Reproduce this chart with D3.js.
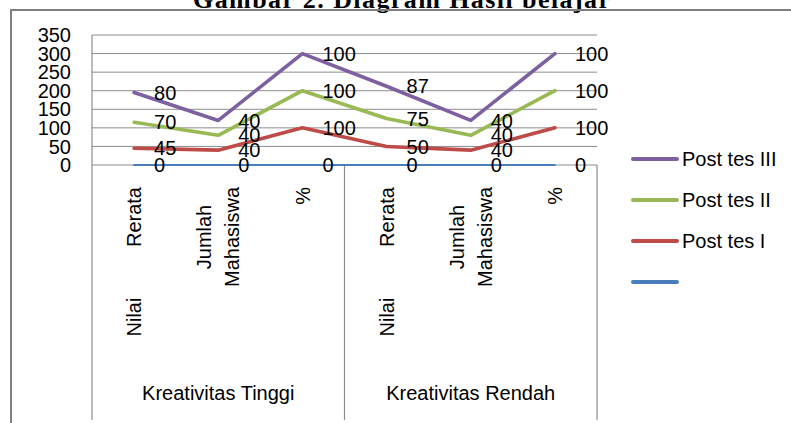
<!DOCTYPE html>
<html>
<head>
<meta charset="utf-8">
<script src="https://cdn.jsdelivr.net/npm/d3@7"></script>
<style>
  body { margin: 0; background: #fff; }
  text { font-family: "Liberation Sans", Arial, sans-serif; fill: #000; }
</style>
</head>
<body>
<svg id="chart" width="791" height="423"></svg>
<script>
'use strict';

// data
var groups = ['Kreativitas Tinggi', 'Kreativitas Rendah']
var subCats = [['Nilai Rerata'], ['Jumlah', 'Mahasiswa'], ['%']]
var seriesNames = ['', 'Post tes I', 'Post tes II', 'Post tes III']
var blank = [0, 0, 0, 0, 0, 0]
var postTes1 = [45, 40, 100, 50, 40, 100]
var postTes2 = [70, 40, 100, 75, 40, 100]
var postTes3 = [80, 40, 100, 87, 40, 100]
var yTicks = [0, 50, 100, 150, 200, 250, 300, 350]

var colors = ['#4a7ebb', '#be4b48', '#98b954', '#7d60a0']

var svg = d3.select('#chart')

// title, clipped at the top like the scan
svg.append('text')
    .attr('x', 193).attr('y', 8)
    .attr('textLength', 417)
    .style('font-family', '"Liberation Serif", "Times New Roman", serif')
    .style('font-weight', 'bold')
    .style('font-size', '26px')
    .text('Gambar 2. Diagram Hasil belajar')

// outer chart frame
svg.append('rect')
    .attr('x', 11).attr('y', 10)
    .attr('width', 900).attr('height', 500)
    .attr('fill', 'none')
    .attr('stroke', '#7f7f7f')
    .attr('stroke-width', 2)

var plotL = 92, plotR = 597, plotT = 35, base = 165, plotB = 420

var idx = d3.range(blank.length)
var x = d3.scaleBand().domain(idx).range([plotL, plotR])
var xg = d3.scaleBand().domain(groups).range([plotL, plotR])
var y = d3.scaleLinear().domain([0, 350]).range([base, plotT])

var cx = function(i) { return x(i) + x.bandwidth() / 2 }

// gridlines
svg.append('g').selectAll('line')
    .data(yTicks)
    .join('line')
    .attr('x1', plotL).attr('x2', plotR)
    .attr('y1', function(d) { return y(d) }).attr('y2', function(d) { return y(d) })
    .attr('stroke', '#8c8c8c')
    .attr('stroke-width', 1)

// y tick labels
svg.append('g').selectAll('text')
    .data(yTicks)
    .join('text')
    .attr('x', 71)
    .attr('y', function(d) { return y(d) })
    .attr('dy', '0.36em')
    .attr('text-anchor', 'end')
    .style('font-size', '20px')
    .text(function(d) { return d })

// axes + group separators
var axis = svg.append('g').attr('stroke', '#8c8c8c').attr('stroke-width', 1.2)
axis.append('line').attr('x1', plotL).attr('x2', plotL).attr('y1', plotT).attr('y2', plotB)
axis.selectAll('line.sep')
    .data(groups)
    .join('line')
    .attr('class', 'sep')
    .attr('x1', function(d) { return xg(d) + xg.bandwidth() })
    .attr('x2', function(d) { return xg(d) + xg.bandwidth() })
    .attr('y1', base).attr('y2', plotB)

// category labels, rotated
var catG = svg.append('g')
idx.forEach(function(i) {
    var lines = subCats[i % subCats.length]
    var n = lines.length
    lines.forEach(function(t, k) {
        var lx = cx(i) + (k - (n - 1) / 2) * 28
        catG.append('text')
            .attr('transform', 'translate(' + lx + ',187) rotate(-90)')
            .attr('text-anchor', n > 1 ? 'middle' : 'end')
            .attr('dx', n > 1 ? -50 : 0)
            .attr('dy', '0.36em')
            .style('font-size', '20px')
            .style('word-spacing', t.indexOf(' ') > 0 ? '45px' : null)
            .text(t)
    })
})

// group labels
svg.append('g').selectAll('text')
    .data(groups)
    .join('text')
    .attr('x', function(d) { return xg(d) + xg.bandwidth() / 2 })
    .attr('y', 393)
    .attr('dy', '0.36em')
    .attr('text-anchor', 'middle')
    .style('font-size', '20px')
    .text(function(d) { return d })

// stacked lines
var table = idx.map(function(i) {
    return { a: blank[i], b: postTes1[i], c: postTes2[i], d: postTes3[i] }
})
var keys = ['a', 'b', 'c', 'd']
var stacked = d3.stack().keys(keys)(table)

var line = d3.line()
    .x(function(d, i) { return cx(i) })
    .y(function(d) { return y(d[1]) })

svg.append('g').selectAll('path')
    .data(stacked)
    .join('path')
    .attr('d', line)
    .attr('fill', 'none')
    .attr('stroke', function(d, i) { return colors[i] })
    .attr('stroke-width', function(d, i) { return i === 0 ? 2.2 : 3.6 })
    .attr('stroke-linejoin', 'round')
    .attr('stroke-linecap', 'round')

// data labels
stacked.forEach(function(s, si) {
    svg.append('g').selectAll('text')
        .data(s)
        .join('text')
        .attr('x', function(d, i) { return cx(i) + 20 })
        .attr('y', function(d) { return y(d[1]) })
        .attr('dy', '0.36em')
        .style('font-size', '20px')
        .text(function(d) { return d[1] - d[0] })
})

// legend, top series first
var legend = svg.append('g')
var order = [3, 2, 1, 0]
order.forEach(function(si, k) {
    var ly = 159 + k * 41
    legend.append('line')
        .attr('x1', 633).attr('x2', 677)
        .attr('y1', ly).attr('y2', ly)
        .attr('stroke', colors[si])
        .attr('stroke-width', 4)
        .attr('stroke-linecap', 'round')
    legend.append('text')
        .attr('x', 682).attr('y', ly)
        .attr('dy', '0.36em')
        .style('font-size', '20px')
        .text(seriesNames[si])
})
</script>
</body>
</html>
